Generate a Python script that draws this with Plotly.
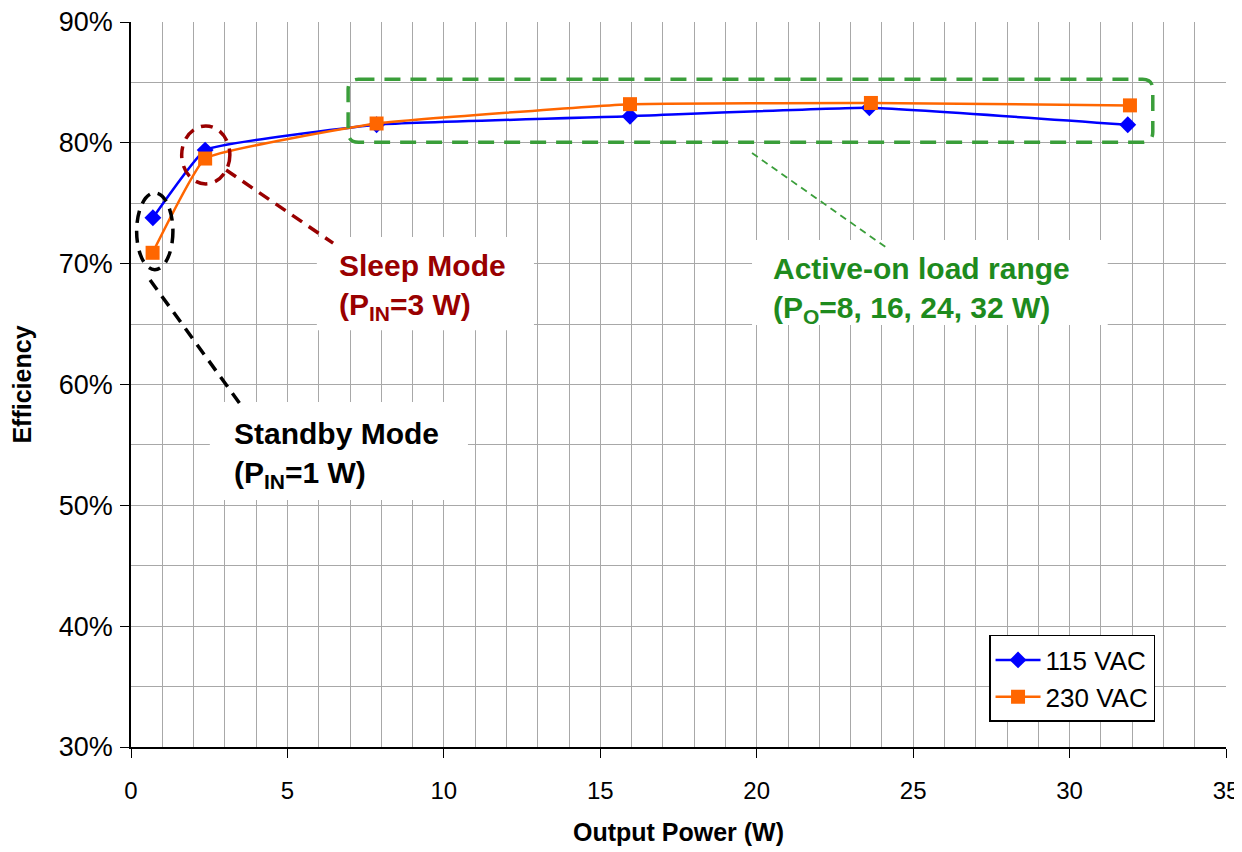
import plotly.graph_objects as go

# ---- data ----
power_115 = [0.7, 2.37, 7.85, 15.95, 23.6, 31.86]
eff_115 = [73.8, 79.4, 81.5, 82.2, 82.9, 81.5]
power_230 = [0.69, 2.37, 7.85, 15.95, 23.65, 31.93]
eff_230 = [70.9, 78.7, 81.6, 83.2, 83.3, 83.1]
series_names = ["115 VAC", "230 VAC"]
y_ticks = [30, 40, 50, 60, 70, 80, 90]
y_tick_labels = ["30%", "40%", "50%", "60%", "70%", "80%", "90%"]
x_ticks = [0, 5, 10, 15, 20, 25, 30, 35]

FONT = "Liberation Sans, Arial, sans-serif"
BLUE = "#0000FF"
ORANGE = "#FF6600"
DARKRED = "#990000"
GREEN_TXT = "#1E8B1E"
GREEN_LN = "#3A9E3A"
GRID = "#A8A8A8"

fig = go.Figure()
fig.add_trace(go.Scatter(
    x=power_115, y=eff_115, name=series_names[0], mode="lines+markers",
    line=dict(color=BLUE, width=2.5, shape="spline", smoothing=0.3),
    marker=dict(symbol="diamond", size=13, color=BLUE)))
fig.add_trace(go.Scatter(
    x=power_230, y=eff_230, name=series_names[1], mode="lines+markers",
    line=dict(color=ORANGE, width=2.5, shape="spline", smoothing=0.3),
    marker=dict(symbol="square", size=14, color=ORANGE)))

shapes = []
# white backgrounds of the callout text boxes
for (x0, x1, y0, y1) in [(5.94, 12.88, 64.5, 72.2), (2.52, 10.77, 50.44, 58.55), (19.85, 31.22, 64.93, 71.96)]:
    shapes.append(dict(type="rect", xref="x", yref="y", x0=x0, x1=x1, y0=y0, y1=y1,
                       fillcolor="white", line=dict(width=0), layer="between"))

# rounded dashed green rectangle (active-on range)
bx0, bx1, by0, by1 = 6.94, 32.66, 80.05, 85.26
rx, ry = 0.33, 0.85
path = (f"M {bx0+rx},{by1} L {bx1-rx},{by1} Q {bx1},{by1} {bx1},{by1-ry} "
        f"L {bx1},{by0+ry} Q {bx1},{by0} {bx1-rx},{by0} L {bx0+rx},{by0} "
        f"Q {bx0},{by0} {bx0},{by0+ry} L {bx0},{by1-ry} Q {bx0},{by1} {bx0+rx},{by1} Z")
shapes.append(dict(type="path", xref="x", yref="y", path=path,
                   line=dict(color=GREEN_LN, width=3.5, dash="16px,10px")))
# ellipses
shapes.append(dict(type="circle", xref="x", yref="y", x0=1.62, x1=3.16, y0=76.6, y1=81.4,
                   line=dict(color=DARKRED, width=3.5, dash="12px,8px")))
shapes.append(dict(type="circle", xref="x", yref="y", x0=0.18, x1=1.34, y0=69.5, y1=75.85,
                   line=dict(color="black", width=3.5, dash="12px,8px")))
# leader lines
shapes.append(dict(type="line", xref="x", yref="y", x0=3.04, y0=77.75, x1=6.46, y1=71.7,
                   line=dict(color=DARKRED, width=3.5, dash="12px,8px")))
shapes.append(dict(type="line", xref="x", yref="y", x0=0.61, y0=68.65, x1=3.58, y1=58.06,
                   line=dict(color="black", width=3.5, dash="12px,8px")))
shapes.append(dict(type="line", xref="x", yref="y", x0=19.85, y0=79.16, x1=24.16, y1=71.3,
                   line=dict(color=GREEN_LN, width=1.8, dash="7px,5px")))

annotations = [
    dict(x=6.58, y=68.1, xref="x", yref="y", xanchor="left", yanchor="middle", align="left",
         showarrow=False, text="<b>Sleep Mode<br>(P<sub>IN</sub>=3 W)</b>",
         font=dict(family=FONT, size=30, color=DARKRED)),
    dict(x=3.22, y=54.2, xref="x", yref="y", xanchor="left", yanchor="middle", align="left",
         showarrow=False, text="<b>Standby Mode<br>(P<sub>IN</sub>=1 W)</b>",
         font=dict(family=FONT, size=30, color="black")),
    dict(x=20.47, y=67.8, xref="x", yref="y", xanchor="left", yanchor="middle", align="left",
         showarrow=False, text="<b>Active-on load range<br>(P<sub>O</sub>=8, 16, 24, 32 W)</b>",
         font=dict(family=FONT, size=30, color=GREEN_TXT)),
]

# the page body adds an 8px offset; figure size/margins compensate for it
fig.update_layout(
    width=1234, height=844,
    margin=dict(l=123, r=16, t=14, b=105, autoexpand=False),
    paper_bgcolor="white", plot_bgcolor="white",
    font=dict(family=FONT, size=24, color="black"),
    shapes=shapes, annotations=annotations,
    showlegend=True,
    legend=dict(x=0.7836, y=0.1545, xanchor="left", yanchor="top",
                bgcolor="white", bordercolor="black", borderwidth=1.5,
                font=dict(family=FONT, size=26, color="black"),
                itemwidth=45, tracegroupgap=0),
)
fig.update_xaxes(
    range=[0, 35], tickvals=x_ticks, ticks="outside", ticklen=9, tickcolor="black",
    showline=True, linecolor="black", linewidth=1.5, zeroline=False, automargin=False,
    showgrid=True, gridcolor=GRID, gridwidth=1, ticklabeloverflow="allow",
    minor=dict(dtick=1, showgrid=True, gridcolor=GRID, gridwidth=1, ticks=""),
    tickfont=dict(family=FONT, size=24), ticklabelstandoff=12,
    title=dict(text="<b>Output Power (W)</b>", font=dict(family=FONT, size=25), standoff=21),
)
fig.update_yaxes(
    range=[30, 90], tickvals=y_ticks, ticktext=y_tick_labels, ticks="outside", ticklen=9,
    tickcolor="black", automargin=False, ticklabeloverflow="allow",
    showline=True, linecolor="black", linewidth=1.5, zeroline=False,
    showgrid=True, gridcolor=GRID, gridwidth=1,
    minor=dict(dtick=5, showgrid=True, gridcolor=GRID, gridwidth=1, ticks=""),
    tickfont=dict(family=FONT, size=27), ticklabelstandoff=2,
    title=dict(text="<b>Efficiency</b>", font=dict(family=FONT, size=25), standoff=22),
)

fig.write_html("out.html")
